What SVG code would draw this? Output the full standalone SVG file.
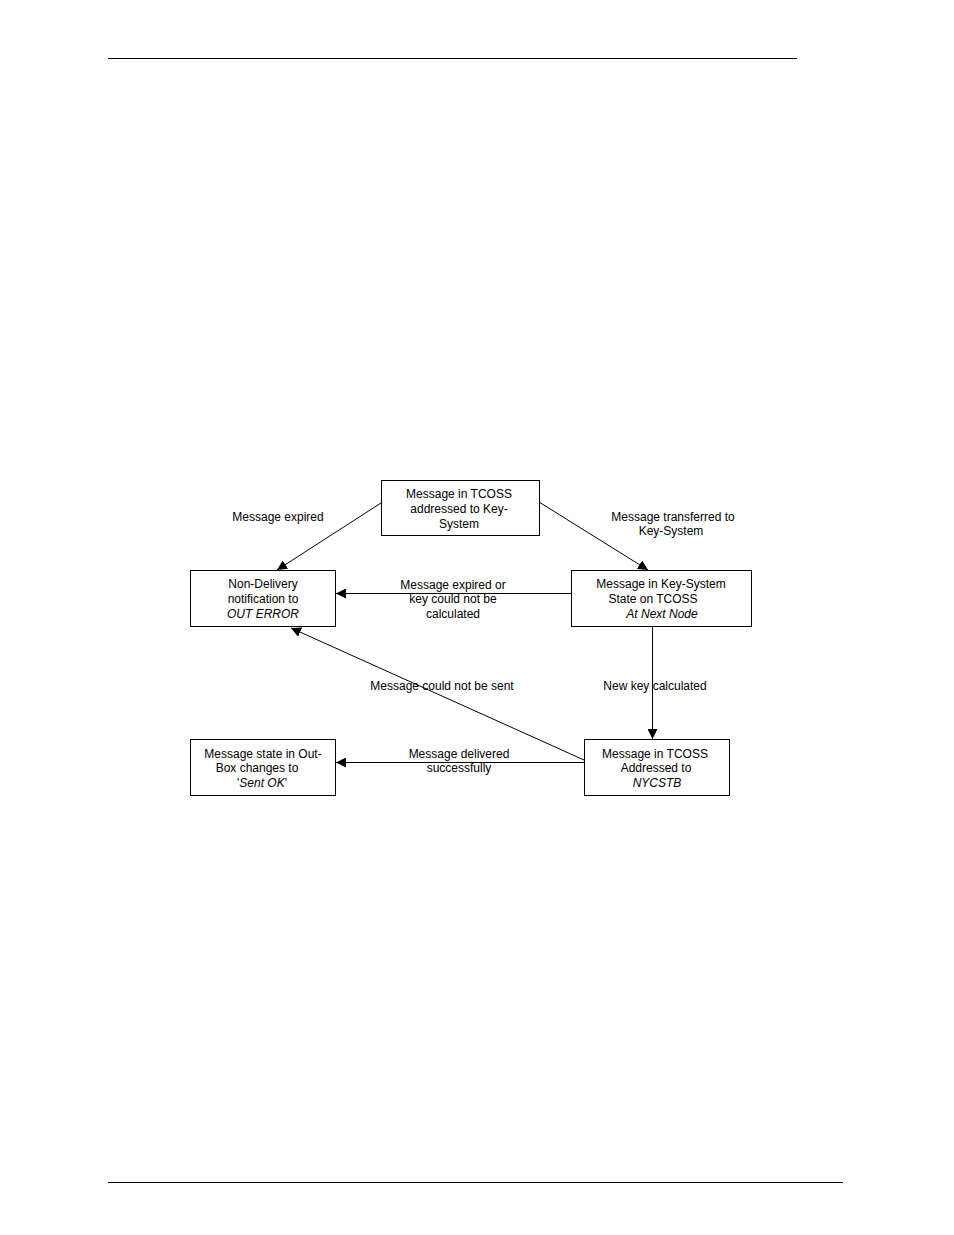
<svg xmlns="http://www.w3.org/2000/svg" width="954" height="1235" viewBox="0 0 954 1235">
<style>
.box{fill:#fff;stroke:#000;stroke-width:1}
.t{font-family:"Liberation Sans",Arial,sans-serif;font-size:12px;fill:#000;text-anchor:middle}
.i{font-style:italic}
.c{stroke:#000;stroke-width:1;fill:none;marker-end:url(#ah)}
</style>
<defs>
<marker id="ah" viewBox="0 0 10 10" refX="10" refY="5" markerWidth="10" markerHeight="10" markerUnits="userSpaceOnUse" orient="auto">
<path d="M0,0 L10,5 L0,10 z" fill="#000"/>
</marker>
</defs>
<rect width="954" height="1235" fill="#fff"/>
<line x1="108" y1="58.5" x2="797" y2="58.5" stroke="#000" stroke-width="1.2"/>
<line x1="108" y1="1182.5" x2="843" y2="1182.5" stroke="#000" stroke-width="1.2"/>

<g id="connectors">
<line class="c" x1="381" y1="503" x2="277" y2="570"/>
<line class="c" x1="539" y1="502" x2="648" y2="570"/>
<line class="c" x1="571" y1="593.5" x2="336" y2="593.5"/>
<line class="c" x1="652.5" y1="626" x2="652.5" y2="739"/>
<line class="c" x1="584" y1="760" x2="291" y2="628"/>
<line class="c" x1="584" y1="762.5" x2="336" y2="762.5"/>
</g>

<g id="labels">
<text class="t" x="278" y="521">Message expired</text>
<text class="t" x="673" y="521">Message transferred to</text>
<text class="t" x="671" y="535">Key-System</text>
<text class="t" x="453" y="589">Message expired or</text>
<text class="t" x="453" y="603">key could not be</text>
<text class="t" x="453" y="618">calculated</text>
<text class="t" x="442" y="690">Message could not be sent</text>
<text class="t" x="655" y="690">New key calculated</text>
<text class="t" x="459" y="758">Message delivered</text>
<text class="t" x="459" y="772">successfully</text>
</g>

<g id="node-tcoss-key">
<rect class="box" x="381.5" y="480.5" width="158" height="55"/>
<text class="t" x="459" y="498">Message in TCOSS</text>
<text class="t" x="459" y="513">addressed to Key-</text>
<text class="t" x="459" y="528">System</text>
</g>
<g id="node-nondelivery">
<rect class="box" x="190.5" y="570.5" width="145" height="56"/>
<text class="t" x="263" y="588">Non-Delivery</text>
<text class="t" x="263" y="603">notification to</text>
<text class="t i" x="263" y="618">OUT ERROR</text>
</g>
<g id="node-keysystem">
<rect class="box" x="571.5" y="570.5" width="180" height="56"/>
<text class="t" x="661" y="588">Message in Key-System</text>
<text class="t" x="653" y="603">State on TCOSS</text>
<text class="t i" x="662" y="618">At Next Node</text>
</g>
<g id="node-outbox">
<rect class="box" x="190.5" y="739.5" width="145" height="56"/>
<text class="t" x="263" y="758">Message state in Out-</text>
<text class="t" x="257" y="772">Box changes to</text>
<text class="t" x="262" y="787">'<tspan class="i">Sent OK</tspan>'</text>
</g>
<g id="node-nycstb">
<rect class="box" x="584.5" y="739.5" width="145" height="56"/>
<text class="t" x="655" y="758">Message in TCOSS</text>
<text class="t" x="656" y="772">Addressed to</text>
<text class="t i" x="657" y="787">NYCSTB</text>
</g>
</svg>
